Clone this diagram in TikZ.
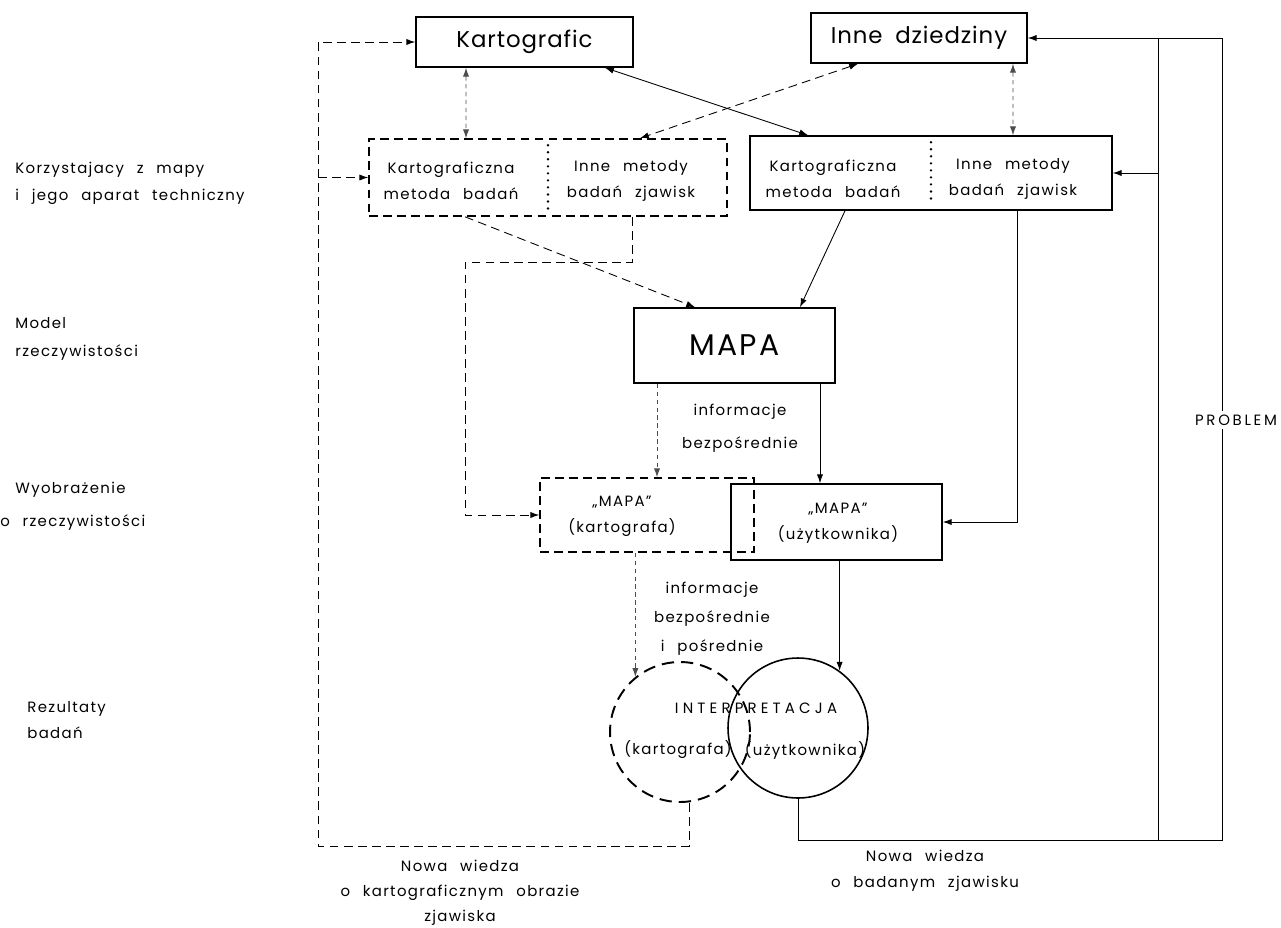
\documentclass[tikz,border=0pt]{standalone}
\usepackage{fontspec}
\setmainfont[WordSpace=1.8,LetterSpace=4]{Poppins}
\newfontfamily\lettered[WordSpace=2.4,LetterSpace=9]{Poppins}
\usetikzlibrary{arrows.meta}

\begin{document}
\begin{tikzpicture}[x=0.02cm,y=-0.02cm,
  box/.style={draw,line width=0.9pt,inner sep=0pt},
  dbox/.style={box,dash pattern=on 5pt off 3pt},
  txt/.style={font=\lettered\fontsize{8.5}{15}\selectfont,align=center,inner sep=0pt},
  side/.style={font=\lettered\fontsize{8.5}{15.3}\selectfont,align=left,anchor=west,inner sep=0pt},
  con/.style={line width=0.5pt},
  dcon/.style={con,dash pattern=on 5pt off 3pt},
  fcon/.style={con,black!70,dash pattern=on 2.5pt off 2pt},
  tip/.style={-{Latex[length=5pt,width=3.5pt]}},
  tips/.style={{Latex[length=5pt,width=3.5pt]}-{Latex[length=5pt,width=3.5pt]}},
  divider/.style={line width=1.5pt,dash pattern=on 0pt off 4pt,line cap=round,shorten >=4pt,shorten <=4pt}]
\useasboundingbox (0,0) rectangle (1281,927);
\node[box,minimum width=4.34cm,minimum height=1cm,font=\fontsize{13}{15}\selectfont] (kart) at (524.5,42) {Kartografic};
\node[box,minimum width=4.32cm,minimum height=1cm,font=\fontsize{13}{15}\selectfont] (idz) at (919,38) {Inne dziedziny};
\node[dbox,minimum width=7.16cm,minimum height=1.54cm] (lbox) at (548,177.5) {};
\node[box,minimum width=7.24cm,minimum height=1.48cm] (rbox) at (931,173) {};
\node[txt] (lmet) at (451,181) {Kartograficzna\\metoda badań};
\node[txt] (linne) at (631,181) {Inne metody\\badań zjawisk};
\node[txt] (rmet) at (833,179) {Kartograficzna\\metoda badań};
\node[txt] (rinne) at (1013,179) {Inne metody\\badań zjawisk};
\draw[divider] (lbox.north) -- (lbox.south);
\draw[divider] (rbox.north) -- (rbox.south);
\node[box,minimum width=4.02cm,minimum height=1.5cm,font=\fontsize{17}{20}\selectfont\addfontfeature{LetterSpace=8}] (mapa) at (734.5,345.5) {MAPA};
\node[txt,font=\lettered\fontsize{8.5}{18.7}\selectfont] (info1) at (740,428) {informacje\\bezpośrednie};
\node[dbox,minimum width=4.28cm,minimum height=1.48cm] (kbox) at (647,515) {};
\node[box,minimum width=4.22cm,minimum height=1.52cm] (ubox) at (836.5,522) {};
\node[txt] (kmapa) at (622,516) {„MAPA”\\(kartografa)};
\node[txt] (umapa) at (838,523) {„MAPA”\\(użytkownika)};
\node[txt,font=\lettered\fontsize{8.5}{16.4}\selectfont] (info2) at (712,619) {informacje\\bezpośrednie\\i pośrednie};
\node[circle,draw,line width=1.1pt,dash pattern=on 7pt off 4pt,minimum size=2.8cm] (kc) at (680,732) {};
\node[circle,draw,line width=0.9pt,minimum size=2.8cm] (uc) at (798,728) {};
\node[txt,font=\lettered\fontsize{8.5}{15}\selectfont\addfontfeature{LetterSpace=28}] (interp) at (756,708) {INTERPRETACJA};
\node[txt] (kint) at (678,750) {(kartografa)};
\node[txt] (uint) at (805,750) {(użytkownika)};
\node[side] (korz) at (15,183.5) {Korzystajacy z mapy\\i jego aparat techniczny};
\node[side,font=\lettered\fontsize{8.5}{16}\selectfont] (model) at (15,339) {Model\\rzeczywistości};
\node[side,font=\lettered\fontsize{8.5}{18.7}\selectfont] (wyobr) at (0,506.5) {\hspace*{0.3cm}Wyobrażenie\\o rzeczywistości};
\node[side,font=\lettered\fontsize{8.5}{14.7}\selectfont] (rez) at (27,720) {Rezultaty\\badań};
\node[txt,font=\lettered\fontsize{8.5}{14.2}\selectfont] (nowak) at (460,893) {Nowa wiedza\\o kartograficznym obrazie\\zjawiska};
\node[txt] (nowab) at (925,871) {Nowa wiedza\\o badanym zjawisku};
\coordinate (lbot) at (318,846);
\coordinate (kbend) at (465,262);
\coordinate (rbot) at (1222,840);
\coordinate (pbot) at (1158,840);
\draw[fcon,tips] ([xshift=-1.17cm]kart.south) -- ([xshift=-1.64cm]lbox.north);
\draw[con,tips] ([xshift=1.61cm]kart.south) -- ([xshift=-2.46cm]rbox.north);
\draw[dcon,tips] ([xshift=-1.22cm]idz.south) -- ([xshift=1.84cm]lbox.north);
\draw[fcon,tips] ([xshift=1.88cm]idz.south) -- ([xshift=1.64cm]rbox.north);
\draw[dcon,tip] ([xshift=-1.66cm]lbox.south) -- ([xshift=-0.79cm]mapa.north);
\draw[con,tip] ([xshift=-1.72cm]rbox.south) -- ([xshift=1.31cm]mapa.north);
\draw[dcon,tip] ([xshift=1.68cm]lbox.south) |- (kbend) |- (kbox.west);
\draw[dcon,tip] ([xshift=0.18cm]kc.south) |- (lbot) |- (kart.west);
\draw[dcon,tip] (lbot |- lbox.west) -- (lbox.west);
\draw[fcon,tip] ([xshift=-1.55cm]mapa.south) -- ([xshift=-1.55cm]mapa.south |- kbox.north);
\draw[con,tip] ([xshift=1.71cm]mapa.south) -- ([xshift=1.71cm]mapa.south |- ubox.north);
\draw[con,tip] ([xshift=1.72cm]rbox.south) |- (ubox.east);
\draw[fcon,tip] (kc.129 |- kbox.south) -- (kc.129);
\draw[con,tip] (uc.54 |- ubox.south) -- (uc.54);
\draw[con,tip] (uc.south) |- (rbot) |- (idz.east);
\draw[con] (pbot) -- (pbot |- idz.east);
\draw[con,tip] (pbot |- rbox.east) -- (rbox.east);
\node[txt,fill=white,inner sep=2pt,font=\lettered\fontsize{8.5}{15}\selectfont\addfontfeature{LetterSpace=18}] (prob) at (1236,420) {PROBLEM};
\end{tikzpicture}
\end{document}
